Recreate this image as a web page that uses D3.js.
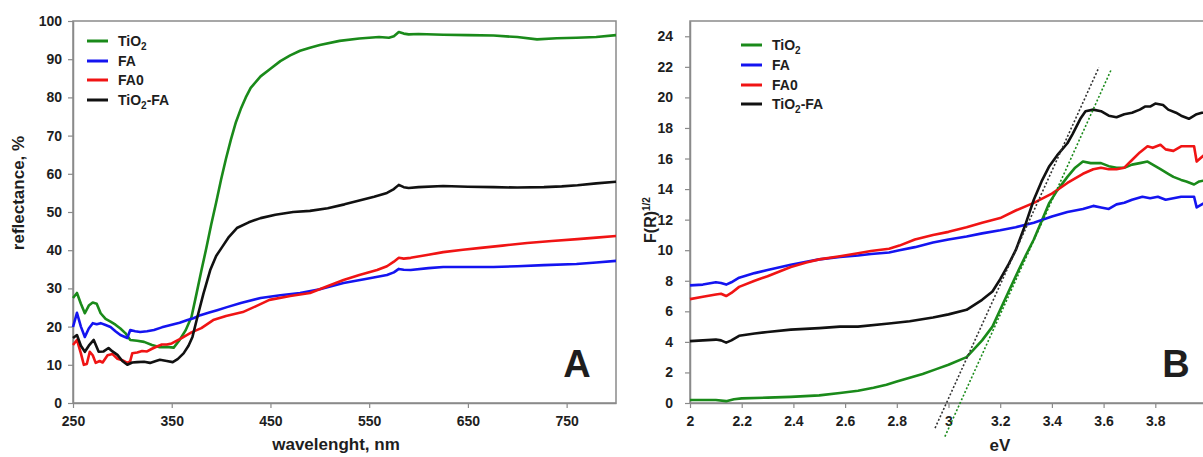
<!DOCTYPE html>
<html>
<head>
<meta charset="utf-8">
<script src="https://cdn.jsdelivr.net/npm/d3@7"></script>
<style>
  html, body { margin: 0; padding: 0; background: #fff; overflow: hidden; }
  svg { display: block; }
  text { font-family: "Liberation Sans", Arial, sans-serif; font-weight: bold; fill: #1e1e1e; }
</style>
</head>
<body>
<svg id="chart" width="1203" height="457"></svg>
<script>
// ---- Panel A: diffuse reflectance vs wavelength ----
const seriesNames = ["TiO2", "FA", "FA0", "TiO2-FA"];
const seriesColors = ["#1a8a1a", "#1414f0", "#f01414", "#111111"];

const tio2A_nm = [250,254,258,262,266,270,274,278,283,288,293,298,303,308,315,322,330,338,345,352,358,364,370,375,380,385,390,395,400,405,410,415,420,425,430,440,450,460,470,480,490,500,520,540,560,570,575,580,585,590,600,625,650,676,700,720,740,760,780,800];
const tio2A_R  = [27.5,28.8,26,23.5,25.5,26.3,26,23.5,22,21.3,20.5,19.5,18.3,16.5,16.3,16,15.2,14.6,14.7,14.5,16.5,19,22.5,28.5,34.6,40.5,46.7,52.5,58.5,64,69,73.5,77,80,82.5,85.5,87.5,89.5,91,92.2,93,93.7,94.8,95.4,95.8,95.6,96,97.1,96.7,96.5,96.6,96.4,96.3,96.2,95.8,95.2,95.5,95.6,95.8,96.3];

const faA_nm = [250,254,258,262,266,270,274,278,283,288,293,298,305,308,313,318,325,332,340,349,358,366,372,379,388,396,406,420,440,460,480,500,524,545,568,575,580,585,592,610,625,650,676,700,727,760,780,800];
const faA_R  = [19.9,23.6,20,17.3,19.5,20.9,20.6,20.9,20.4,19.9,18.8,17.8,17,19.1,18.8,18.6,18.8,19.1,19.8,20.4,21,21.7,22.2,23,23.7,24.3,25.1,26.2,27.5,28.2,28.8,29.8,31.4,32.4,33.5,34.2,35.1,34.9,34.8,35.3,35.6,35.6,35.6,35.8,36.1,36.4,36.8,37.2];

const fa0A_nm = [250,254,258,261,264,267,270,273,277,280,285,290,295,300,305,308,310,315,320,325,330,335,340,345,350,360,370,380,392,405,422,435,449,470,490,505,524,540,558,568,575,580,585,592,610,625,645,663,685,710,735,761,780,800];
const fa0A_R  = [15.2,16.5,13,10,10.2,13.4,12.5,10.5,11,10.6,12.5,12.8,11.6,11.2,10.5,11,13,13.2,13.6,13.5,14.2,14.8,15.3,15.3,15.6,17,18.5,19.6,21.7,22.8,23.8,25.3,27,28,28.8,30.3,32.2,33.5,34.8,35.8,37,38,37.8,38,38.8,39.5,40.1,40.6,41.2,41.9,42.4,42.9,43.3,43.7];

const tio2faA_nm = [250,254,258,262,266,271,276,281,286,290,295,300,305,310,315,322,328,334,338,345,351,356,362,367,371,376,382,389,395,401,408,416,428,440,455,473,490,508,525,541,555,568,575,580,585,590,600,625,650,676,700,727,745,761,780,800];
const tio2faA_R  = [17,17.8,15,13.4,15,16.5,13.4,13.5,14.4,13.5,12.6,11,10,10.6,10.7,10.8,10.5,11,11.3,11,10.7,11.5,13,15,17.3,22.5,28.5,34.8,38.5,40.8,43.5,45.8,47.3,48.4,49.3,50,50.3,51,52,53.1,54,55,56,57.1,56.5,56.3,56.5,56.8,56.6,56.5,56.4,56.5,56.7,57,57.5,57.9];

const ticksA_x = [250,350,450,550,650,750];
const ticksA_y = [0,10,20,30,40,50,60,70,80,90,100];

// ---- Panel B: Kubelka-Munk function vs photon energy ----
const tio2B_eV = [2.00,2.05,2.10,2.14,2.17,2.20,2.30,2.39,2.50,2.58,2.65,2.71,2.76,2.80,2.85,2.90,2.95,3.00,3.07,3.13,3.17,3.20,3.23,3.26,3.30,3.33,3.36,3.39,3.42,3.46,3.49,3.52,3.55,3.59,3.62,3.65,3.68,3.71,3.74,3.77,3.80,3.82,3.85,3.87,3.90,3.92,3.95,3.97,4.00];
const tio2B_F  = [0.2,0.2,0.2,0.12,0.25,0.3,0.35,0.4,0.5,0.65,0.8,1.0,1.2,1.4,1.65,1.9,2.2,2.5,3.0,4.1,5.0,6.1,7.2,8.3,9.7,10.7,11.9,13.1,13.9,14.8,15.4,15.8,15.7,15.7,15.5,15.4,15.4,15.6,15.7,15.8,15.5,15.3,15.0,14.8,14.6,14.5,14.3,14.5,14.6];

const faB_eV = [2.00,2.05,2.10,2.12,2.14,2.16,2.19,2.25,2.30,2.39,2.45,2.50,2.58,2.65,2.70,2.77,2.81,2.87,2.94,3.00,3.07,3.13,3.20,3.26,3.33,3.40,3.46,3.52,3.56,3.59,3.62,3.65,3.68,3.71,3.75,3.78,3.81,3.84,3.87,3.90,3.93,3.95,3.96,3.98,4.00];
const faB_F  = [7.7,7.75,7.9,7.85,7.75,7.9,8.2,8.5,8.7,9.05,9.25,9.4,9.55,9.65,9.75,9.85,10.0,10.2,10.5,10.7,10.9,11.1,11.3,11.5,11.8,12.2,12.5,12.7,12.9,12.8,12.7,13.0,13.1,13.3,13.5,13.4,13.5,13.3,13.4,13.5,13.5,13.5,12.8,13.0,13.2];

const fa0B_eV = [2.00,2.05,2.10,2.12,2.14,2.16,2.19,2.25,2.30,2.39,2.45,2.50,2.58,2.65,2.70,2.77,2.81,2.87,2.94,3.00,3.07,3.13,3.20,3.26,3.33,3.40,3.46,3.52,3.56,3.59,3.62,3.65,3.68,3.71,3.74,3.77,3.79,3.82,3.84,3.87,3.90,3.92,3.95,3.96,3.98,4.00];
const fa0B_F  = [6.8,6.95,7.1,7.15,7.0,7.2,7.6,8.0,8.3,8.9,9.2,9.4,9.6,9.8,9.95,10.1,10.3,10.7,11.0,11.2,11.5,11.8,12.1,12.6,13.1,13.7,14.4,15.0,15.3,15.4,15.3,15.3,15.4,15.9,16.4,16.8,16.7,16.9,16.6,16.5,16.8,16.8,16.8,15.8,16.1,16.4];

const tio2faB_eV = [2.00,2.05,2.10,2.12,2.14,2.16,2.19,2.25,2.30,2.39,2.50,2.58,2.65,2.77,2.85,2.94,3.00,3.07,3.13,3.17,3.20,3.23,3.26,3.30,3.33,3.36,3.39,3.42,3.46,3.48,3.51,3.53,3.56,3.59,3.62,3.65,3.68,3.71,3.74,3.76,3.78,3.80,3.83,3.85,3.88,3.90,3.93,3.96,3.98,4.00];
const tio2faB_F  = [4.05,4.1,4.15,4.1,3.95,4.1,4.4,4.55,4.65,4.8,4.9,5.0,5.0,5.2,5.35,5.6,5.8,6.1,6.75,7.3,8.1,9.0,10.0,11.8,13.3,14.5,15.5,16.2,17.0,17.6,18.6,19.1,19.2,19.1,18.8,18.7,18.9,19.0,19.2,19.4,19.4,19.6,19.5,19.2,19.0,18.8,18.6,18.9,19.0,19.0];

// Linear band-edge fits (eV, F) end points
const fitTiO2FA_eV = [2.948, 3.582];
const fitTiO2FA_F  = [-1.64, 21.97];
const fitTiO2_eV   = [2.986, 3.629];
const fitTiO2_F    = [-2.2, 21.8];

const ticksB_x = [2, 2.2, 2.4, 2.6, 2.8, 3, 3.2, 3.4, 3.6, 3.8];
const ticksB_y = [0,2,4,6,8,10,12,14,16,18,20,22,24];

const svg = d3.select("#chart");
const axisColor = "#8a8a8a";

function zip(xs, ys) { return xs.map((x, i) => [x, ys[i]]); }

function styleAxis(g) {
  g.select(".domain").attr("stroke", axisColor).attr("stroke-width", 1.5);
  g.selectAll(".tick line").attr("stroke", axisColor).attr("stroke-width", 1.2);
  g.selectAll(".tick text").style("font-size", "14px").attr("fill", "#1e1e1e");
}

function addSubLabel(sel, name) {
  // Render "TiO2" style names with a subscript 2
  if (name.startsWith("TiO2")) {
    sel.append("tspan").text("TiO");
    sel.append("tspan").text("2").attr("dy", 4).style("font-size", "10px");
    const rest = name.slice(4);
    if (rest) sel.append("tspan").text(rest).attr("dy", -4);
  } else {
    sel.text(name);
  }
}

function legend(x0, ys) {
  seriesNames.forEach((n, i) => {
    svg.append("line").attr("x1", x0).attr("x2", x0 + 21)
      .attr("y1", ys[i]).attr("y2", ys[i])
      .attr("stroke", seriesColors[i]).attr("stroke-width", 3);
    const t = svg.append("text").attr("x", x0 + 31).attr("y", ys[i] + 5)
      .style("font-size", "14px");
    addSubLabel(t, n);
  });
}

// ================= Panel A =================
const A = { l: 73, r: 616, t: 21, b: 403 };
const xA = d3.scaleLinear().domain([250, 800]).range([A.l, A.r]);
const yA = d3.scaleLinear().domain([0, 100]).range([A.b, A.t]);

svg.append("rect").attr("x", A.l).attr("y", A.t).attr("width", A.r - A.l).attr("height", A.b - A.t)
  .attr("fill", "none").attr("stroke", axisColor).attr("stroke-width", 1.5);

svg.append("g").attr("transform", `translate(0,${A.b})`)
  .call(d3.axisBottom(xA).tickValues(ticksA_x).tickSize(5).tickSizeOuter(0).tickPadding(8))
  .call(styleAxis);
svg.append("g").attr("transform", `translate(${A.l},0)`)
  .call(d3.axisLeft(yA).tickValues(ticksA_y).tickSize(5).tickSizeOuter(0).tickPadding(6))
  .call(styleAxis);

const lineA = d3.line().x(d => xA(d[0])).y(d => yA(d[1]));
const dataA = [zip(tio2A_nm, tio2A_R), zip(faA_nm, faA_R), zip(fa0A_nm, fa0A_R), zip(tio2faA_nm, tio2faA_R)];
dataA.forEach((d, i) => {
  svg.append("path").datum(d).attr("d", lineA).attr("fill", "none")
    .attr("stroke", seriesColors[i]).attr("stroke-width", 2.6).attr("stroke-linejoin", "round");
});

legend(87, [41, 61, 80, 100]);

svg.append("text").attr("x", 336).attr("y", 450).attr("text-anchor", "middle")
  .style("font-size", "17px").text("wavelenght, nm");
svg.append("text").attr("transform", "translate(24,193) rotate(-90)").attr("text-anchor", "middle")
  .style("font-size", "17px").text("reflectance, %");
svg.append("text").attr("x", 577).attr("y", 377).attr("text-anchor", "middle")
  .style("font-size", "38px").text("A");

// ================= Panel B =================
const B = { l: 690, r: 1207, t: 21, b: 403 };
const xB = d3.scaleLinear().domain([2, 4]).range([B.l, B.r]);
const yB = d3.scaleLinear().domain([0, 25]).range([B.b, B.t]);

svg.append("rect").attr("x", B.l).attr("y", B.t).attr("width", B.r - B.l).attr("height", B.b - B.t)
  .attr("fill", "none").attr("stroke", axisColor).attr("stroke-width", 1.5);

svg.append("g").attr("transform", `translate(0,${B.b})`)
  .call(d3.axisBottom(xB).tickValues(ticksB_x).tickFormat(d3.format("")).tickSize(5).tickSizeOuter(0).tickPadding(8))
  .call(styleAxis);
svg.append("g").attr("transform", `translate(${B.l},0)`)
  .call(d3.axisLeft(yB).tickValues(ticksB_y).tickSize(5).tickSizeOuter(0).tickPadding(12))
  .call(styleAxis);

const lineB = d3.line().x(d => xB(d[0])).y(d => yB(d[1]));
const dataB = [zip(tio2B_eV, tio2B_F), zip(faB_eV, faB_F), zip(fa0B_eV, fa0B_F), zip(tio2faB_eV, tio2faB_F)];
dataB.forEach((d, i) => {
  svg.append("path").datum(d).attr("d", lineB).attr("fill", "none")
    .attr("stroke", seriesColors[i]).attr("stroke-width", 2.6).attr("stroke-linejoin", "round");
});

// dotted tangent lines used for the band-gap estimate
[[zip(fitTiO2FA_eV, fitTiO2FA_F), "#333333"], [zip(fitTiO2_eV, fitTiO2_F), "#1a8a1a"]].forEach(([d, c]) => {
  svg.append("path").datum(d).attr("d", lineB).attr("fill", "none")
    .attr("stroke", c).attr("stroke-width", 1.6).attr("stroke-dasharray", "2,2");
});

legend(741, [45, 65, 85, 104]);

svg.append("text").attr("x", 1000).attr("y", 451).attr("text-anchor", "middle")
  .style("font-size", "17px").text("eV");
const fr = svg.append("text").attr("transform", "translate(656,220) rotate(-90)").attr("text-anchor", "middle")
  .style("font-size", "16px");
fr.append("tspan").text("F(R)");
fr.append("tspan").text("1/2").attr("dy", -6).style("font-size", "10px");
svg.append("text").attr("x", 1176).attr("y", 377).attr("text-anchor", "middle")
  .style("font-size", "38px").text("B");
</script>
</body>
</html>
